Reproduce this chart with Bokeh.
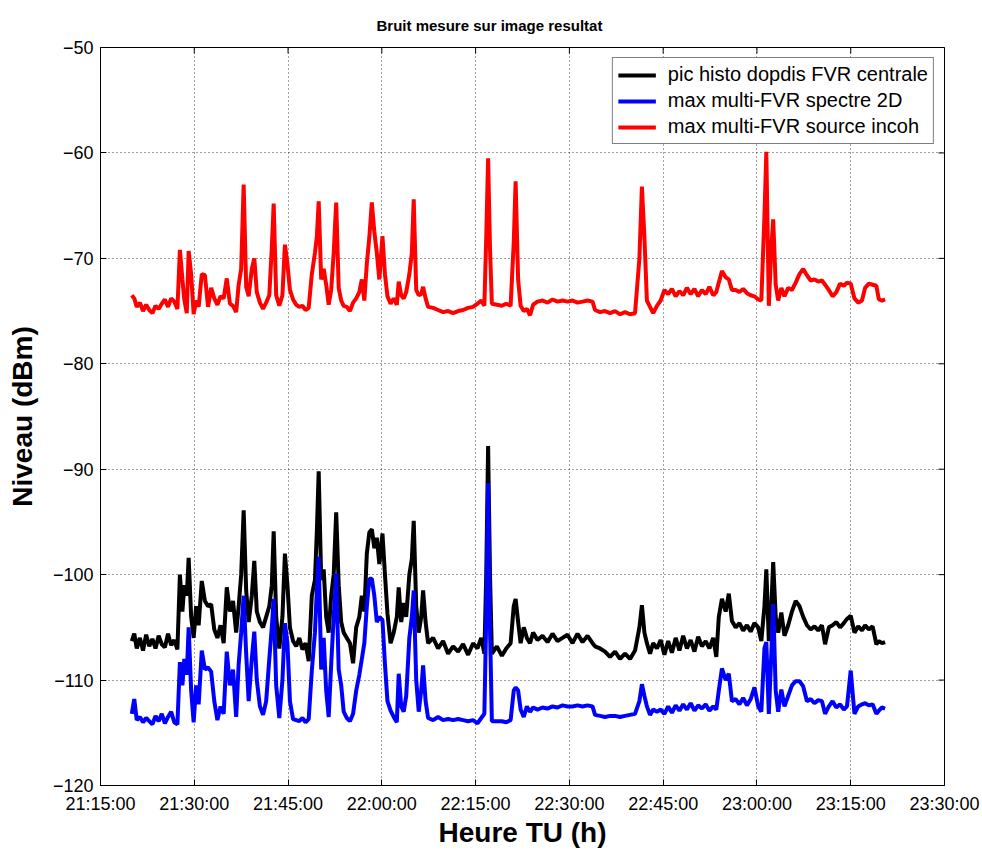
import math
import pandas as pd
from bokeh.plotting import figure
from bokeh.models import (Range1d, FixedTicker, DatetimeTickFormatter,
                          Legend, LegendItem, Title)
from bokeh.embed import file_html
from bokeh.resources import INLINE

title_text = "Bruit mesure sur image resultat"
x_label = "Heure TU (h)"
y_label = "Niveau (dBm)"
series_names = ["pic histo dopdis FVR centrale", "max multi-FVR spectre 2D", "max multi-FVR source incoh"]
series_colors = ["#000000", "#0000ff", "#ff0000"]
x_tick_labels = ["21:15:00", "21:30:00", "21:45:00", "22:00:00", "22:15:00",
                 "22:30:00", "22:45:00", "23:00:00", "23:15:00", "23:30:00"]
y_ticks = [-120, -110, -100, -90, -80, -70, -60, -50]

# time of each sample, in minutes after 21:15:00
minutes_after_2115 = [
    5.0, 5.4, 5.8, 6.3, 6.8, 7.3, 7.8, 8.3, 8.8, 9.3,
    9.8, 10.3, 10.8, 11.3, 11.8, 12.3, 12.7, 13.1, 13.4, 13.8,
    14.1, 14.5, 14.9, 15.3, 15.7, 16.2, 16.7, 17.2, 17.7, 18.2,
    18.7, 19.2, 19.7, 20.2, 20.7, 21.2, 21.7, 22.1, 22.5, 22.9,
    23.3, 23.7, 24.2, 24.6, 25.0, 25.5, 26.0, 26.5, 27.0, 27.4,
    27.7, 28.1, 28.6, 29.1, 29.5, 29.9, 30.3, 30.8, 31.3, 31.8,
    32.3, 32.8, 33.3, 33.8, 34.3, 34.6, 34.9, 35.3, 35.7, 36.1,
    36.5, 36.9, 37.3, 37.7, 38.1, 38.5, 38.9, 39.4, 39.9, 40.4,
    40.9, 41.4, 41.8, 42.2, 42.6, 43.0, 43.4, 43.8, 44.2, 44.6,
    45.1, 45.5, 45.9, 46.4, 46.9, 47.4, 47.7, 48.1, 48.5, 48.9,
    49.4, 49.8, 50.1, 50.5, 50.9, 51.3, 51.6, 52.0, 52.4, 53.2,
    54.0, 54.8, 55.6, 56.4, 57.2, 58.0, 58.8, 59.6, 60.3, 60.9,
    61.4, 61.7, 62.0, 62.3, 62.6, 63.4, 64.2, 64.9, 65.6, 66.1,
    66.4, 66.8, 67.2, 67.7, 68.2, 68.7, 69.2, 69.9, 70.7, 71.5,
    72.3, 73.1, 73.9, 74.7, 75.5, 76.3, 77.1, 77.9, 78.7, 79.1,
    79.9, 80.7, 81.5, 82.3, 83.1, 83.9, 84.7, 85.5, 86.2, 86.6,
    87.0, 87.4, 87.9, 88.4, 89.0, 89.6, 90.2, 90.8, 91.4, 92.0,
    92.6, 93.2, 93.8, 94.4, 95.0, 95.6, 96.2, 96.8, 97.4, 98.0,
    98.5, 98.9, 99.4, 100.0, 100.5, 101.0, 101.6, 102.2, 102.8, 103.4,
    104.0, 104.6, 105.2, 105.7, 106.2, 106.5, 106.9, 107.3, 107.6, 108.0,
    108.4, 108.9, 109.4, 110.0, 110.6, 111.2, 111.8, 112.4, 113.0, 113.6,
    114.2, 114.8, 115.4, 115.9, 116.5, 117.1, 117.7, 118.3, 118.9, 119.4,
    120.0, 120.6, 121.2, 121.8, 122.3, 122.9, 123.5, 124.1, 124.5, 125.0,
    125.5,
]

pic_histo_dopdis = [
    -106.3, -105.6, -107.0, -106.0, -107.2, -105.7, -106.8, -106.1, -107.0, -105.8,
    -106.6, -106.9, -105.6, -106.7, -106.2, -107.1, -100.0, -103.5, -101.0, -102.0,
    -98.4, -104.0, -106.0, -103.0, -104.8, -100.6, -102.5, -103.0, -102.8, -105.2,
    -106.0, -104.8, -106.5, -101.2, -103.5, -102.5, -105.5, -103.0, -100.0, -93.9,
    -101.5, -104.5, -102.0, -98.7, -103.5, -104.5, -105.0, -104.0, -103.0, -101.0,
    -95.9, -104.0, -107.0, -104.0, -98.0, -101.0, -105.0, -106.3, -106.8, -106.0,
    -107.1, -106.5, -108.2, -102.0, -100.5, -96.0, -90.2, -100.5, -99.5, -104.0,
    -105.5, -102.0, -100.0, -94.1, -101.0, -104.5, -105.5, -106.0, -106.5, -108.4,
    -105.0, -104.0, -102.0, -103.5, -98.0, -96.0, -95.7, -97.5, -96.5, -99.0,
    -96.1, -100.0, -103.7, -106.5, -105.5, -104.0, -101.2, -104.5, -102.7, -104.0,
    -100.0, -98.5, -94.9, -103.0, -105.5, -104.0, -101.5, -104.5, -106.5, -106.0,
    -107.0, -106.3, -107.5, -106.8, -107.3, -106.6, -107.6, -106.5, -107.0, -106.0,
    -107.5, -100.0, -87.8, -100.0, -107.5, -106.8, -107.7, -107.0, -106.5, -103.0,
    -102.3, -104.5, -106.5, -105.0, -106.0, -106.5, -105.5, -106.2, -105.8, -106.4,
    -105.6, -106.3, -106.0, -105.7, -106.5, -105.6, -106.4, -105.8, -106.5, -106.8,
    -107.0, -107.3, -107.8, -107.3, -108.0, -107.5, -108.0, -107.2, -105.0, -102.9,
    -105.5, -106.5, -107.5, -106.5, -107.0, -106.2, -107.6, -106.3, -107.4, -106.0,
    -107.2, -105.8, -107.0, -106.2, -107.3, -105.9, -106.8, -106.3, -107.0, -106.0,
    -107.8, -104.0, -102.3, -103.5, -101.8, -104.4, -105.0, -104.6, -105.3, -104.8,
    -105.4, -104.6, -105.0, -106.3, -103.0, -99.5, -106.3, -103.0, -98.8, -104.0,
    -105.5, -103.6, -105.8, -104.8, -103.5, -102.5, -103.0, -104.0, -104.8, -105.2,
    -104.9, -105.3, -104.8, -106.6, -105.0, -104.8, -104.5, -105.0, -104.6, -104.2,
    -103.9, -105.5, -104.9, -105.3, -104.8, -105.2, -104.9, -106.6, -106.3, -106.5,
    -106.4,
]

max_spectre_2d = [
    -113.2, -111.8, -113.8, -113.5, -114.0, -113.6, -113.9, -114.2, -113.4, -113.9,
    -113.2, -114.1, -113.5, -113.0, -114.0, -114.2, -108.3, -110.5, -108.0, -109.5,
    -105.0, -111.0, -114.0, -110.5, -112.3, -107.2, -109.0, -108.8, -109.2, -112.0,
    -113.8, -112.5, -113.2, -107.3, -110.5, -109.0, -113.5, -108.5, -105.5, -102.0,
    -107.5, -112.0, -108.0, -105.4, -110.0, -112.5, -113.3, -112.0, -108.0, -105.0,
    -102.3, -110.5, -113.6, -110.0, -104.6, -106.5, -112.0, -113.7, -113.8, -113.9,
    -113.6, -114.0, -113.7, -109.1, -105.5, -101.5, -98.3, -109.0, -106.0, -111.0,
    -113.5, -108.5, -104.0, -99.9, -109.0, -110.5, -113.0, -113.6, -113.9, -113.2,
    -111.0, -109.5, -108.0, -106.5, -103.0, -100.4, -100.4, -102.0, -104.5, -104.0,
    -104.3, -108.5, -112.0, -112.9, -113.5, -114.0, -109.4, -112.5, -113.0, -111.5,
    -106.0, -104.0, -101.5, -110.0, -113.0, -111.0, -108.6, -112.0, -113.6, -113.8,
    -113.5, -113.8, -113.7, -113.8, -113.7, -113.8, -113.9, -113.8, -114.1, -113.6,
    -113.2, -104.0, -91.3, -105.0, -113.9, -113.9, -113.9, -114.0, -113.8, -111.0,
    -110.7, -111.0, -112.8, -113.5, -112.5, -113.0, -112.6, -112.8, -112.6, -112.7,
    -112.5, -112.6, -112.4, -112.5, -112.5, -112.4, -112.5, -112.4, -112.5, -113.3,
    -113.4, -113.5, -113.4, -113.4, -113.5, -113.4, -113.3, -113.2, -112.0, -110.4,
    -111.5, -112.5, -113.3, -112.8, -113.0, -112.8, -113.2, -112.5, -113.1, -112.4,
    -112.9, -112.3, -112.8, -112.2, -112.9, -112.4, -112.7, -112.3, -112.9, -112.5,
    -112.8, -111.0, -108.9, -110.0, -109.4, -112.0, -111.8, -112.3, -111.7, -112.4,
    -111.8, -110.7, -112.5, -113.0, -107.0, -106.4, -113.2, -107.5, -102.8, -111.0,
    -113.0, -110.9, -112.5, -111.5, -110.5, -110.1, -110.1, -110.6, -112.0, -111.8,
    -112.2, -111.9, -112.0, -113.2, -112.5, -112.0, -112.6, -112.3, -112.8, -112.5,
    -109.1, -113.2, -112.5, -112.3, -112.2, -112.4, -112.3, -113.2, -112.9, -112.6,
    -112.7,
]

max_source_incoh = [
    -73.5, -73.8, -74.6, -74.2, -75.0, -74.4, -74.9, -75.2, -74.5, -74.8,
    -74.3, -73.9, -74.6, -73.8, -74.1, -74.8, -69.2, -72.0, -73.9, -75.2,
    -69.3, -71.5, -75.3, -74.0, -74.6, -71.5, -71.6, -74.6, -72.8, -73.8,
    -74.4, -73.6, -73.8, -71.9, -74.3, -74.5, -75.1, -72.5, -71.0, -63.0,
    -72.7, -73.6, -71.0, -70.0, -73.2, -74.2, -74.8, -74.2, -73.5, -69.0,
    -64.8, -73.5, -74.5, -73.5, -68.7, -70.5, -73.0, -73.9, -74.4, -74.6,
    -74.5, -74.9, -74.7, -71.5, -69.5, -68.0, -64.6, -72.0, -71.0, -72.5,
    -74.4, -73.0, -69.5, -64.7, -72.8, -74.0, -74.5, -74.6, -75.0, -74.2,
    -73.8, -73.2, -72.0, -74.0, -70.5, -68.0, -64.7, -67.5, -69.5, -72.0,
    -67.9, -71.5, -73.6, -74.3, -73.8, -74.4, -72.2, -73.5, -73.8, -73.2,
    -71.5, -69.5, -64.4, -73.0, -73.5, -73.4, -72.7, -73.8, -74.6, -74.7,
    -74.9, -75.1, -75.0, -75.2, -75.0, -74.9, -74.7, -74.6, -74.3, -74.0,
    -74.5, -68.0, -60.5, -69.0, -74.3, -74.4, -74.5, -74.3, -74.5, -68.5,
    -62.7, -72.0, -74.5, -75.0, -74.8, -75.4, -74.4, -74.1, -74.0, -74.2,
    -73.9, -74.1, -74.0, -74.1, -74.0, -74.2, -74.1, -74.0, -74.1, -74.9,
    -75.1, -75.0, -75.2, -75.0, -75.3, -75.1, -75.3, -75.2, -70.0, -63.2,
    -68.0, -74.0, -74.6, -75.2, -74.5, -74.0, -73.0, -73.4, -72.9, -73.6,
    -73.1, -73.5, -72.8, -73.4, -72.9, -73.6, -73.0, -73.4, -72.7, -73.5,
    -73.2, -72.3, -71.2, -71.8, -72.0, -73.0, -73.0, -73.2, -72.9, -73.3,
    -73.5, -73.6, -73.9, -74.0, -66.0, -59.9, -74.5, -69.0, -66.3, -72.5,
    -74.0, -72.8, -73.6, -72.8, -73.0, -72.3, -71.5, -71.0, -71.6, -72.1,
    -72.0, -72.2, -72.1, -72.5, -73.0, -73.6, -73.2, -72.4, -72.6, -72.3,
    -72.4, -73.8, -74.2, -74.0, -72.8, -72.4, -72.5, -72.6, -73.9, -74.0,
    -73.9,
]

FONT = "Liberation Sans"
day = "2000-01-01"
t0 = pd.Timestamp(f"{day} {x_tick_labels[0]}")
times = [t0 + pd.Timedelta(minutes=m) for m in minutes_after_2115]
x_tick_ms = [pd.Timestamp(f"{day} {s}").value // 10**6 for s in x_tick_labels]

p = figure(width=982, height=850, output_backend="svg", toolbar_location=None,
           title=None, x_axis_type="datetime",
           x_range=Range1d(start=x_tick_ms[0], end=x_tick_ms[-1]),
           y_range=Range1d(start=y_ticks[0], end=y_ticks[-1]),
           min_border_left=100, min_border_right=38, min_border_top=46, min_border_bottom=65)
p.background_fill_color = "white"
p.border_fill_color = "white"
p.outline_line_color = "black"
p.outline_line_width = 1

# title, shifted so that it is centred over the whole figure
p.add_layout(Title(text=title_text, align="left", offset=276, vertical_align="bottom",
                   text_font=FONT, text_font_size="15px",
                   text_font_style="bold", text_color="black", standoff=28), "above")

x_ticker = FixedTicker(ticks=x_tick_ms)
y_ticker = FixedTicker(ticks=y_ticks)
fmt = "%H:%M:%S"
x_formatter = DatetimeTickFormatter(microseconds=fmt, milliseconds=fmt, seconds=fmt, minsec=fmt,
                                    minutes=fmt, hourmin=fmt, hours=fmt, days=fmt,
                                    months=fmt, years=fmt, context=None)
y_overrides = {t: ("\u2212" + str(abs(t))) if t < 0 else str(t) for t in y_ticks}

xa = p.below[0]
ya = p.left[0]
xa.ticker = x_ticker
xa.formatter = x_formatter
ya.ticker = y_ticker
ya.major_label_overrides = y_overrides

for ax in [xa, ya]:
    ax.axis_line_color = "black"
    ax.axis_line_width = 1
    ax.major_tick_in = 6
    ax.major_tick_out = 0
    ax.minor_tick_in = 0
    ax.minor_tick_out = 0
    ax.major_tick_line_color = "black"
    ax.major_label_text_font = FONT
    ax.major_label_text_color = "black"
    ax.major_label_text_font_size = "18px"
    ax.axis_label_text_font = FONT
    ax.axis_label_text_font_size = "28px"
    ax.axis_label_text_font_style = "bold"
    ax.axis_label_text_color = "black"

xa.axis_label = x_label
xa.major_label_standoff = 8
xa.axis_label_standoff = 0
ya.axis_label = y_label
ya.major_label_standoff = 7
ya.axis_label_standoff = 12

p.xgrid.ticker = x_ticker
p.ygrid.ticker = y_ticker
p.grid.grid_line_color = "black"
p.grid.grid_line_alpha = 0.75
p.grid.grid_line_dash = "1 3"
p.grid.grid_line_width = 1

# inward tick marks on the top and right edges of the box (half of each dash is clipped by the frame)
p.scatter(x=x_tick_ms, y=[y_ticks[-1]] * len(x_tick_ms), marker="dash", angle=math.pi / 2,
          size=12, line_color="black", line_width=1)
p.scatter(x=[x_tick_ms[-1]] * len(y_ticks), y=y_ticks, marker="dash",
          size=12, line_color="black", line_width=1)

series = [pic_histo_dopdis, max_spectre_2d, max_source_incoh]
renderers = []
for vals, col in zip(series, series_colors):
    r = p.line(times, vals, line_color=col, line_width=4)
    renderers.append(r)

legend = Legend(items=[LegendItem(label=n, renderers=[r]) for n, r in zip(series_names, renderers)],
                location="top_right", margin=10, padding=5, spacing=3,
                label_text_font=FONT, label_text_font_size="20px", label_text_color="black",
                label_height=22, label_width=260, glyph_height=22, glyph_width=38, label_standoff=12,
                border_line_color="black", border_line_width=1,
                background_fill_color="white", background_fill_alpha=1.0)
p.add_layout(legend)

open("out.html", "w").write(file_html(p, INLINE))
